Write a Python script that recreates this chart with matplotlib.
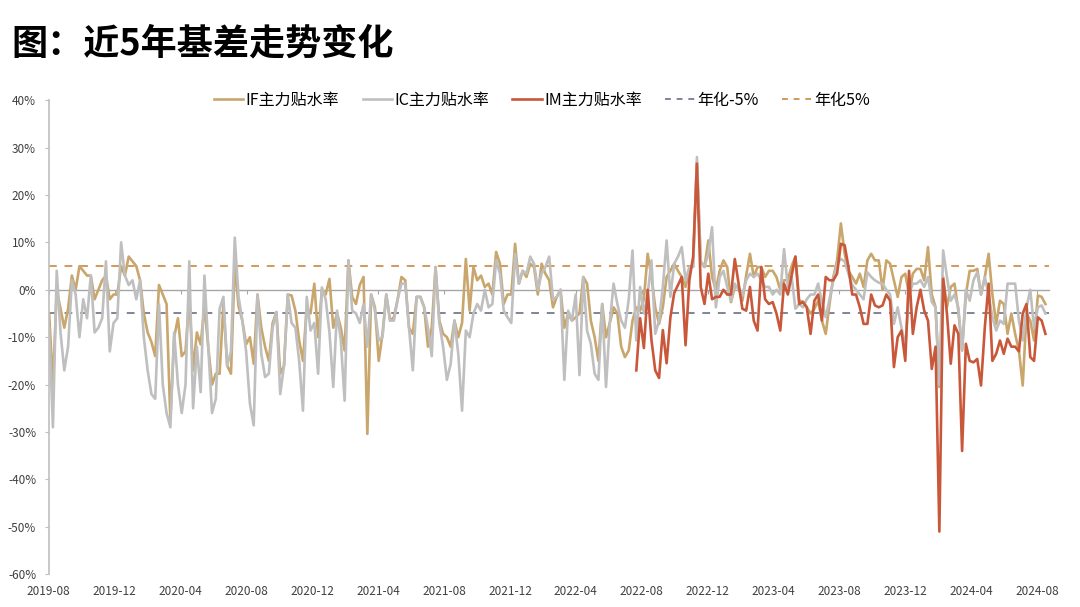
import matplotlib
matplotlib.use("Agg")
import matplotlib.pyplot as plt
import matplotlib.dates as mdates
from matplotlib.ticker import FuncFormatter, FixedLocator
import pandas as pd

plt.rcParams['font.family'] = ['Noto Sans CJK SC', 'DejaVu Sans']

# weekly observations, first week of Aug 2019 to mid Aug 2024
start_date = "2019-08-02"
n_weeks = 264

# IF main contract annualised basis (%)
if_rate = [
    -5, -20, 0, -4, -8, -4, 3, 0, 5, 4, 3, 3, -2, 0, 2, 3, -2, -1, -1, 5,
    3, 7, 6, 5, 2, -5, -9, -11, -14, 1, -1, -3, -27.5, -10, -6, -14, -13, -1.5, -17, -9,
    -11.5, -3.5, -12, -20, -17.7, -17.7, -3, -16, -17.7, 5.5, -3.5, -6.5, -11.5, -10,
    -15.6, -1, -8, -12, -15, -7, -4.7, -17.7, -16, -1, -1.2, -4.4, -10.7, -15, -3.7, -5,
    1.3, -10, 0, -1, 2.3, -8, -5, -8, -12.8, 6.2, -1.5, -3, 1, 2.7, -30.4, -1, -3.7, -15,
    -9.3, -1, -6.5, -5.8, -2, 2.7, 2, -8, -9.3, -1.5, -1.5, -3.7, -12, -8, 4.8, -6.5, -9.3,
    -10, -12, -6.5, -10, -7, 6.5, -4.4, 4.8, 2, 3, 0.6, 1.3, -1, 8, 5.5, -3, -1, -1, 9.7,
    1.3, 4, 2.7, 5.5, 4.8, -1, 5.5, 3.4, 2, -3.7, -1.5, 0, -8, -5, -6.5, -5.8, -5, 2.7,
    1.3, -6.5, -10, -15, -3, -10, -7, -3.7, -5, -12, -14.2, -12.8, -6.5, -3.7, -4.4, -2,
    7.6, 2.7, -3.7, -7.2, -3.7, 2.7, 4, 5.5, 4, 2.7, 0.6, 4, 5.5, 27, 6, 4.8, 10.4, 2.7,
    0, 4, 6.2, 4.8, -2.6, 0.6, 0.6, -2.3, 3, 7.6, 2.7, 4.8, 4.8, 2.7, 4, 4, 2.7, 0, 2, 2,
    5, 7, -2.3, -2.5, -3.7, -5, -4, -2.3, -6.5, -9.3, -3, 2.7, 6.2, 14,
    7.6, 4, 2.7, 1.3, 3.4, 0.6, 6.2, 7.6, 6.2, 6.2, 0, 6.2, 5.5, 2, -1.5, 2.7, 3.4, -1,
    3.4, 4.4, 4.4, 2, 9, -1, -3.7, -20.5, 2.7, -3.7, 0.6, 1.3, -4.4, -12.8, -1, 4, 4, 4.4,
    -1, 2.7, 7.6, -1, -7.2, -2.3, -3, -9.3, -5, -9.3, -12.8, -20.2, -5, -6.5, -10.7, -1.2,
    -1.5, -3,
]

# IC main contract annualised basis (%)
ic_rate = [
    -8, -29, 4, -9, -17, -12, 2, -1, -10, -2, -6, 3, -9, -8, -6, 6, -13, -7, -6, 10,
    3, 1, 2, -2, 2, -10, -17, -22, -23, -3, -20, -26, -29, -9, -20, -26, -20, 6, -25, -12,
    -21.6, 3, -12, -26, -23, -4, -1.5, -16, -13, 11, -1.5, -6.5, -13, -24,
    -28.6, -1, -13.5, -18.4, -17.7, -8, -4.7, -22, -16, -1, -7, -8, -15, -25.5, -1.5, -8.6,
    -7, -17.7, 0.5, -2, -9, -20.5, -4.4, -10.7, -23.4, 6.2, -4.4, -5, -7, -3, -12, -1, -4.4,
    -10.7, -10, -1, -6.5, -6.5, -2, 1.3, 1.3, -8, -17, -1.5, -1.5, -3.7, -8, -14, 4.8, -7, -12,
    -19, -15.6, -6.5, -13.5, -25.5, -8.6, -10, -5, -3, -4.4, 0, -3.7, -3, 6.2, 3.4, -4.4,
    -5.8, -7, 7.6, 1.3, 4, 3.4, 7, 5.5, 0, 3.4, 4.8, 7, -2, -1.5, 0, -19, -4.4, -6.5, -1,
    -18, 2.7, -8.6, -11.4, -17.7, -19, -3, -20.5, -7, 1.3, -3, -6.5, -8, -2, 8.3, -10.7,
    0.6, -5,
    -1, 6.2, -9.3, -6.5, 0.6, 10.4, -1.5, 5.5, 7, 9, 2, 4.8, 4.8, 28, 6, 4.8, 7.6, 13.2,
    -3.7, 2.7, 4, 0.6, -2.3, 1.3, 0, -1.2, 2, 3.4, 2.7, 3.4, 2, 0.6, 0.6, -1, 0, -1, 8.6,
    0.6, 2.7, -4, -3, -3.7, -2, -1, -1, 1.3, -2.6, -5.8, -2, 2, 5.5, 6.5,
    6, 3.4, 1, 0, -1, -2, 3.7, 2.7, 2, 1.5, 1.3, 0, -1, -7.2, -3.7, -8, -12, -1, 1.3, 1.3,
    2, 0.6, 2.7, -2.6, -3.7, -20, 8.3, 2.7, -2.3, -1, -3.7, -12.8, 0, -2.3, 2, 3.7, -1,
    2.7, -1, -5.8, -8.6, -6.5, -7.2, 1.3, 1.3, 1.3, -6.5, -10.7, -3.7, 0, -8, -3.7, -3.3, -5,
]

# IM main contract annualised basis (%), listed from its first week (week 155)
im_start = 155
im_rate = [
    -17, -6, -12.3, 0, -10.6, -17, -18.6, -8.5, -15.5, -5.8, -0.7, 1, 2.7, -11.7, 2, 7,
    26.6, 0.6, -3, 3.4, -2, -1.5, -1.5, 0, -1, -1, 6.5, 1.3, -4, -4.4, 0.6, -6.5, -8.6,
    4.8, -2, -3, -2.6, -5, -8.6, 1.3, -1, 3, 7, -3, -2.6, -3.7, -9.3, -2.3, -1, -6.5, 2.7,
    2, 2, 3.4, 9.7,
    9.4, 4.8, -1, -1, -3.7, -7.2, -7.2, -1, -3.3, -3.7, -3.3, -1, -2.3, -16.3, -10, -8.6,
    -15, 4, -9.3, -3.7, 0, -4.4, -6.5, -16.7, -12, -51, 2.3, -5, -15.6, -7.5, -9.3, -34,
    -11.4, -15, -15.3, -14.6, -20.2, -7.9, 1.3, -15, -13.5, -10.7, -13.5, -10.3, -12, -12,
    -13, -5, -3, -14.2, -15, -5.8, -6.5, -9.3,
]

ann_low = -5
ann_high = 5

dates = pd.date_range(start_date, periods=n_weeks, freq="7D")
s_if = pd.Series(if_rate, index=dates[:len(if_rate)]) / 100
s_ic = pd.Series(ic_rate, index=dates[:len(ic_rate)]) / 100
s_im = pd.Series(im_rate, index=dates[im_start:im_start + len(im_rate)]) / 100

fig = plt.figure(figsize=(10.8, 6.07), dpi=100)
ax = fig.add_axes([0.045, 0.054, 0.926, 0.781])

ax.axhline(ann_low / 100, color="#7f8596", lw=1.4, ls=(0, (4, 4)), zorder=1)
ax.axhline(ann_high / 100, color="#d39a58", lw=1.4, ls=(0, (4, 4)), zorder=1)

ax.plot(s_if.index, s_if.values, color="#c9a66c", lw=1.9, zorder=2, label="IF主力贴水率")
ax.plot(s_ic.index, s_ic.values, color="#bfbfbf", lw=1.9, zorder=3, label="IC主力贴水率")
ax.plot(s_im.index, s_im.values, color="#c9583a", lw=1.9, zorder=4, label="IM主力贴水率")

# legend order: three series then the two dashed lines
h, l = ax.get_legend_handles_labels()
d1, = ax.plot([], [], color="#7f8596", lw=1.4, ls=(0, (3, 3)))
d2, = ax.plot([], [], color="#d39a58", lw=1.4, ls=(0, (3, 3)))
ax.legend(h + [d1, d2], l + ["年化-5%", "年化5%"], ncol=5, loc="center",
          bbox_to_anchor=(0.493, 1.0), frameon=False, fontsize=11.5,
          handlelength=1.85, handletextpad=0.15, columnspacing=1.45)

ax.set_ylim(-0.6, 0.4)
ax.set_yticks([i / 10 for i in range(-6, 5)])
ax.yaxis.set_major_formatter(FuncFormatter(lambda v, p: f"{v * 100:.0f}%"))

ax.set_xlim(pd.Timestamp("2019-08-01"), pd.Timestamp("2024-08-22"))
tick_dates = pd.date_range("2019-08-01", "2024-08-01", freq="4MS")
ax.xaxis.set_major_locator(FixedLocator(mdates.date2num(tick_dates)))
ax.xaxis.set_major_formatter(mdates.DateFormatter("%Y-%m"))

for side in ["top", "right", "bottom"]:
    ax.spines[side].set_visible(False)
ax.spines["left"].set_color("#bfbfbf")
ax.spines["left"].set_linewidth(1.2)
ax.tick_params(axis="y", length=3, color="#bfbfbf", labelsize=8.5, labelcolor="#404040", pad=6)
ax.tick_params(axis="x", length=0, labelsize=8.5, labelcolor="#404040", pad=8)

# zero line as the category axis
zax = ax.secondary_xaxis(0.6)
zax.xaxis.set_major_locator(FixedLocator(mdates.date2num(tick_dates)))
zax.set_xticklabels([])
for sp in zax.spines.values():
    sp.set_color("#a6a6a6")
    sp.set_linewidth(1.0)
zax.tick_params(axis="x", direction="in", length=3, color="#a6a6a6")

fig.text(0.011, 0.927, "图：近5年基差走势变化", fontsize=26, fontweight="bold", color="#000000",
         va="center", ha="left")

fig.savefig("out.png", dpi=100)
